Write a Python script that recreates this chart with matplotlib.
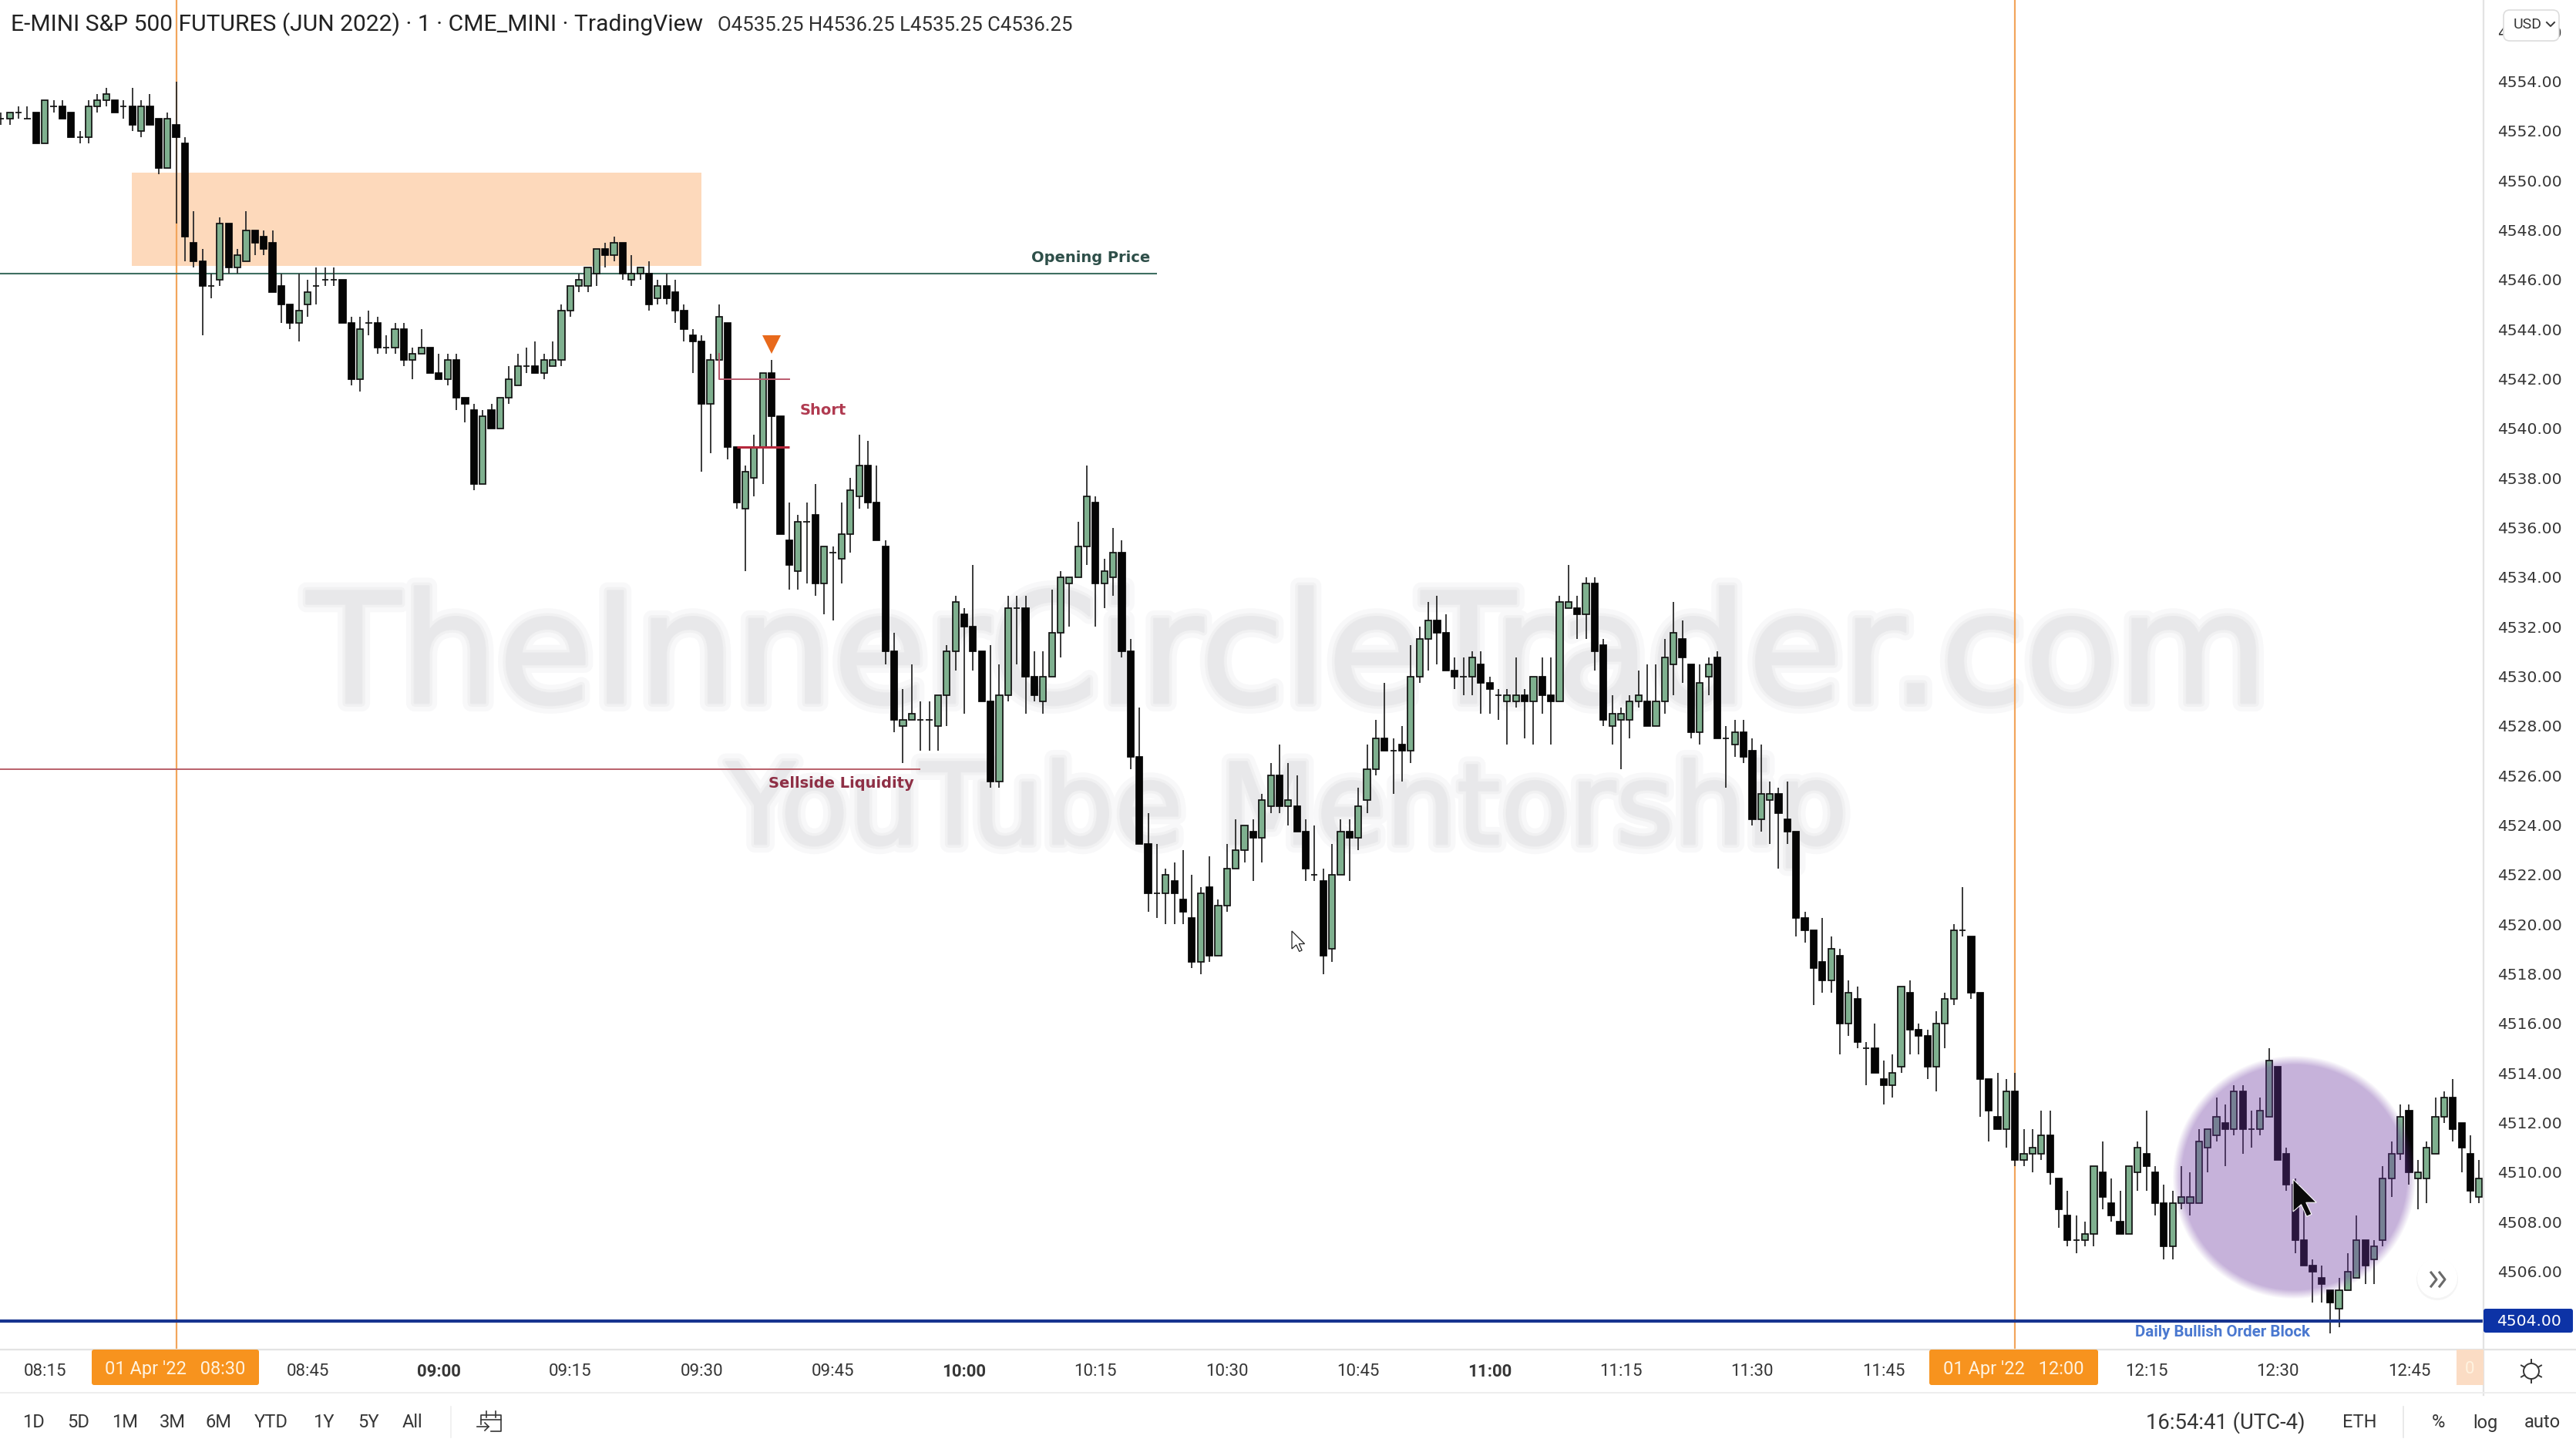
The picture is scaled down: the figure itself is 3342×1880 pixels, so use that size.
import numpy as np
import matplotlib
matplotlib.use("Agg")
import matplotlib.pyplot as plt
import matplotlib.patheffects as pe
from matplotlib.patches import Rectangle, Circle, FancyBboxPatch, Polygon

# prices are points above 4500, one candle per minute, first one is 08:10
base_price = 4500
opens = [52.5,52.5,52.75,52.5,52.75,51.5,53,53,52.75,51.75,
         51.75,53,53.25,53.25,53,53,52,53,52.5,50.5,
         52.25,51.5,47.5,46.75,45.75,46,48.25,46.5,46.75,48,
         47.75,47.5,45.75,45,44.25,45,45.75,46,46,46,
         44.25,42,44.25,44.25,43.25,43.25,44,42.75,43,43.25,
         42.25,42,42.75,41.25,40.75,37.75,40.75,40,41.25,41.75,
         42.5,42.5,42.25,42.5,42.75,44.75,45.75,45.75,46.25,47.25,
         47,47.5,46,46.25,46.25,45.25,45.75,45.5,44.75,43.75,
         43.5,41,42.75,44.25,39.25,36.75,38,39.25,42.25,40.5,
         35.5,34.25,36.25,36.5,33.75,35,34.75,35.75,37.25,38.5,
         37,35.25,31,28,28.25,28.25,28.25,28,29.25,31,
         32.5,32,31,29,25.75,29.25,32.75,32.75,30,29,
         30,31.75,33.75,34,35.25,37,33.75,34,35,31,
         26.75,23.25,21.25,21.25,21.75,21,20.25,18.5,21.5,18.75,
         20.75,22.25,23,23.75,23.5,24.75,26,24.75,24.75,23.75,
         22,21.75,19,22,23.75,23.5,25,26.25,27.5,27,
         27.25,27,30,31.5,32.25,31.75,30.25,30,30,30.5,
         29.75,29.25,29,29,29.25,29,30,29.25,29,32.75,
         32.75,32.5,33.75,31.25,28,28.25,28.25,29,29,28,
         29,30.5,31.5,30.5,27.75,30,30.75,27.5,27.25,27.75,
         27,24.25,25,25.25,24.25,23.75,20.25,19.75,18.5,17.75,
         18.75,16,17,15,15,13.75,13.5,14.25,17.25,15.75,
         15.5,14.25,16,17,19.75,19.5,17.25,13.75,12.25,11.75,
         13.25,10.5,10.75,10.75,11.5,9.75,8.25,7.25,7.25,7.5,
         10,8.75,8,7.5,10,10.75,10,8.75,7,8.75,
         8.75,8.75,11,11.5,12,11.75,13.25,11.75,11.75,12.25,
         14.25,10.75,9.5,7.25,6.25,5.75,5.25,4.5,5.25,5.75,
         7.25,6.5,7.25,9.75,10.75,12.5,9.75,9.75,10.75,12.25,
         13,12,10.75,9]
highs = [52.75,52.75,53,53,52.75,53.25,53.25,53.25,52.75,52,
         53.25,53.5,53.75,53.25,53.25,53.75,53.25,53.5,52.5,52.75,
         54,51.75,48.75,47.25,46.25,48.5,48.25,47.25,48.75,48,
         48,48,46.25,45,46.25,46,46.5,46.5,46.5,46,
         44.5,44.5,44.75,44.5,43.75,44.25,44.25,43.25,44,43.25,
         43,43,43,41.25,41,40.75,41,41.25,42.5,43,
         43.25,43.5,43,43.5,45,45.75,46.25,46.5,47.25,47.5,
         47.75,47.5,47,46.5,46.75,46,46.25,46,45,44,
         43.75,43,45,44.25,39.25,38.5,39.75,42.25,42.75,40.5,
         37,36.5,37,37.75,35.25,35.25,37,38,39.75,39.5,
         38.5,35.5,31.75,29.5,30.5,29,29,29.25,31.25,33.25,
         32.75,34.5,31,31.25,30.5,33.25,33.25,33.25,31,31,
         33.5,34.25,34,36.25,38.5,37.25,34.75,36,35.5,31.5,
         28.75,24.5,23.25,22.25,22.5,23,22,21.5,22.75,21,
         23.25,24.25,24,24.25,25.25,26.5,27.25,26.5,26,24.25,
         24,22.25,23.25,24.25,24.25,25.5,27.25,28.25,29.75,27.5,
         28,31.25,32,33,33.25,32.5,30.75,30.75,31,31,
         30,29.5,29.5,30.75,29.5,30,30.75,30.75,33.25,34.5,
         33.25,34,34,31.5,29.25,28.75,29.25,30.25,30.5,30.5,
         31.5,33,32.25,30.5,30.5,30.75,31,28,28.25,28.25,
         27.5,27.25,25.75,25.5,25.75,23.75,20.5,19.75,20.25,19.5,
         19,17.75,17.5,15.25,16,14.5,14.75,17.5,17.75,16,
         15.75,16.5,17.25,20,21.5,19.5,17.25,13.75,14,13.75,
         14,11.75,11.75,12.5,12.5,9.75,9.25,8.25,8,10.25,
         11.25,9.75,9.25,10.25,11.25,12.5,10.25,9.5,9.25,10.25,
         10,11.75,11.75,13,12.75,13.5,13.5,12.5,13,15,
         14.25,11,9.75,8.5,6.5,6.25,5.25,5.75,6.75,8.25,
         7.25,7.25,10.25,11.25,12.75,12.75,10.5,11.25,13,13.25,
         13.75,12,11.5,10.5]
lows = [52.25,52.25,52.5,52.5,51.5,51.5,52.75,52.5,51.75,51.5,
        51.5,52.75,53,52.75,52.5,52,51.75,52.25,50.25,50.5,
        48.25,46.75,46.5,43.75,45.25,45.75,46.25,46.25,46.75,47,
        47,45.5,44.25,44,43.5,44.5,45,45.75,45.75,44.25,
        41.75,41.5,43.75,43,43,43,42.5,42,43,42.25,
        42,41.75,40.75,40.25,37.5,37.75,40,40,41,41.75,
        42.25,42.25,42,42.5,42.5,44.5,45.5,45.5,45.75,46.5,
        46.75,46,45.75,46,44.75,45,45,44.25,43.5,42.25,
        38.25,39,42,38.75,36.75,34.25,37.25,37.75,39.25,35.75,
        33.5,33.5,33.75,33.25,32.5,32.25,33.75,35,36.75,36.75,
        35.5,30.5,27.75,26.5,28.25,27,27,27,28,30.25,
        28.5,30.25,29,25.5,25.5,29,30.5,28.5,29,28.5,
        30,30.75,32,34,34.5,32,32.75,33.25,30.75,26.25,
        23.25,20.5,20.25,20,20,20,18.25,18,18.5,18.75,
        20.5,22.25,22.5,21.75,22.5,24.5,24.5,24,23.75,21.75,
        21.75,18,18.5,22,21.75,23,24.5,26,27,25.25,
        25.75,26.5,29.75,30.25,30.5,30.25,29.5,29.25,29.25,28.5,
        28.5,28.25,27.25,28.75,27.5,27.25,28.5,27.25,29,32.75,
        31.5,31.5,30.25,28,27.25,26.25,27.5,28.75,28,28,
        28.5,29.25,29.75,27.5,27.25,29.25,27.5,25.5,26.75,26.5,
        24,23.75,23.25,22.25,23.25,19.5,19.25,16.75,17.25,17.25,
        14.75,15.5,15,13.5,14,12.75,13,14,14.75,14.75,
        13.75,13.25,15,16.75,19.5,17,12.25,11.25,11.75,11,
        10.25,10.25,10,10.5,9.5,7.75,7,6.75,7,7,
        8.5,8,7.5,7.5,9.25,9.25,8.25,6.5,6.5,8.5,
        8.25,8.75,10,11.25,10.25,11.5,10.75,11,11.5,12.25,
        10.5,9.25,6.75,6.25,4.75,4.75,3.5,3.75,5.25,5.75,
        5.5,5.5,7,9,10.5,9.5,8.5,8.75,10.75,12,
        11.25,10,8.75,8.75]
closes = [52.5,52.75,52.75,52.5,51.5,53.25,53,52.5,51.75,51.75,
          53,53.25,53.5,52.75,53,52.25,53,52.25,50.5,52.5,
          51.75,47.75,46.75,45.75,45.75,48.25,46.5,47,48,47.5,
          47.25,45.5,45,44.25,44.75,45.5,45.75,46,46,44.25,
          42,44,44.25,43.25,43.25,44,42.75,43,43.25,42.25,
          42,42.75,41.25,41,37.75,40.5,40,41.25,42,42.5,
          42.5,42.25,42.75,42.75,44.75,45.75,46,46.5,47.25,47,
          47.5,46.25,46.25,46.5,45,45.75,45.25,44.75,44,43.5,
          41,42.75,44.5,39.25,37,38.25,39.25,42.25,40.5,35.75,
          34.5,36.25,36.25,33.75,35.25,35,35.75,37.5,38.5,37,
          35.5,31,28.25,28.25,28.5,28.25,28.25,29.25,31,33,
          32,31,29,25.75,29.25,32.75,32.75,30,29.25,30,
          31.75,34,34,35.25,37.25,33.75,34.25,35,31,26.75,
          23.25,21.25,21.25,22,21.25,20.5,18.5,21.25,18.75,20.75,
          22.25,23,24,23.5,25,26,24.75,25,23.75,22.25,
          22,18.75,22,23.75,23.5,24.75,26.25,27.5,27,27,
          27,30,31.5,32.25,31.75,30.25,30,30,30.75,29.75,
          29.5,29.25,29.25,29.25,29,30,29.25,29,33,33,
          32.5,33.75,31,28.25,28.5,28.5,29,29.25,28,29,
          30.75,31.75,30.75,27.75,29.75,30.5,27.5,27.5,27.75,26.75,
          24.25,25.25,25.25,24.5,23.75,20.25,19.75,18.25,17.75,19,
          16,17.25,15.25,15,14,13.5,14,17.5,15.75,15.5,
          14.25,16,17,19.75,19.75,17.25,13.75,12.5,11.75,13.25,
          10.5,10.75,11,11.5,10,8.5,7.25,7.25,7.5,10.25,
          9,8.25,7.5,10.25,11,10.25,8.75,7,8.75,9,
          9,11.25,11.75,12.25,11.75,13.25,11.75,11.75,12.5,14.5,
          10.5,9.5,7.25,6.25,6,5.5,4.75,5.25,6,7.25,
          6.25,7,9.75,10.75,12.25,10,10,11,12.25,13,
          11.75,11,9.25,9.75]

price_ticks = list(range(4504, 4558, 2))
time_ticks = [-15, 15, 30, 45, 60, 75, 90, 105, 120, 135, 150, 165, 180, 195, 225, 240, 255]
time_labels = ["08:15", "08:45", "09:00", "09:15", "09:30", "09:45", "10:00", "10:15", "10:30",
               "10:45", "11:00", "11:15", "11:30", "11:45", "12:15", "12:30", "12:45"]
bold_labels = ["09:00", "10:00", "11:00"]
range_buttons = ["1D", "5D", "1M", "3M", "6M", "YTD", "1Y", "5Y", "All"]
range_button_x = [43, 102, 162, 224, 284, 352, 420, 478, 535]

opening_price = 4546.25
sellside_price = 4526.25
order_block_price = 4504
short_entry = 4542
short_target = 4539.25
short_marker = 4543.4

o = base_price + np.array(opens, dtype=float)
h = base_price + np.array(highs, dtype=float)
l = base_price + np.array(lows, dtype=float)
c = base_price + np.array(closes, dtype=float)
minute = np.arange(len(o)) - 20     # minutes after 08:30

W, H = 3342, 1880
GREEN = "#7fb08f"
ORANGE = "#f7931e"
TEXT = "#363636"
GRID = "#e3e3e3"

fig = plt.figure(figsize=(W / 100, H / 100), dpi=100, facecolor="white")

# chart pane, y scale: about 32.17 px per point, x scale: 11.36 px per minute
ax = fig.add_axes([0, (H - 1751) / H, 3222 / W, 1751 / H])
ax.set_xlim(-20.12, 263.5)
ax.set_ylim(4502.85, 4557.28)
for s in ax.spines.values():
    s.set_visible(False)

ax.yaxis.tick_right()
ax.set_yticks(price_ticks)
ax.set_yticklabels(["%.2f" % p for p in price_ticks], fontsize=14.6, color=TEXT, family="DejaVu Sans")
ax.tick_params(axis="y", length=0, pad=13)
ax.set_xticks(time_ticks)
ax.set_xticklabels(time_labels, fontsize=16, color=TEXT, family="Roboto")
for lab in ax.get_xticklabels():
    if lab.get_text() in bold_labels:
        lab.set_fontweight("bold")
ax.tick_params(axis="x", length=0, pad=13)

# ui layer in full image pixels
ui = fig.add_axes([0, 0, 1, 1], zorder=5)
ui.set_xlim(0, W)
ui.set_ylim(H, 0)
ui.axis("off")

# watermark under the candles, blurred look from a wide pale stroke
wm = [pe.Stroke(linewidth=16, foreground="#f8f8f9"), pe.Stroke(linewidth=7, foreground="#f1f1f2"),
      pe.Stroke(linewidth=2, foreground="#e9e9eb"), pe.Normal()]
ax.text(1670, 912, "TheInnerCircleTrader.com", transform=ui.transData, family="DejaVu Sans", fontsize=143.5,
        color="#e8e8ea", ha="center", va="baseline", zorder=0.5, path_effects=wm)
ax.text(1670, 1095, "YouTube Mentorship", transform=ui.transData, family="DejaVu Sans", fontsize=105,
        color="#e8e8ea", ha="center", va="baseline", zorder=0.5, path_effects=wm)

# supply zone
ax.add_patch(Rectangle((-5.1, 4546.55), 65.1, 3.76, facecolor="#fdd9bb", edgecolor="none", zorder=1))

# session lines
ax.axvline(0, color="#f2a55c", lw=1.6, zorder=1.5)
ax.axvline(210, color="#f2a55c", lw=1.6, zorder=1.5)
ax.hlines(opening_price, -20.12, 112, color="#3f6f61", lw=1.5, zorder=1.6)
ax.hlines(sellside_price, -20.12, 85, color="#b9606a", lw=1.4, zorder=1.6)
ax.axhline(order_block_price, color="#17348f", lw=3, zorder=3.5)

# candles
up = c >= o
body_low = np.minimum(o, c)
body_size = np.abs(c - o)
ax.vlines(minute, l, h, color="#2b2b2b", lw=1.3, zorder=2)
ax.bar(minute[up], body_size[up], bottom=body_low[up], width=0.72, color=GREEN,
       edgecolor="#111111", linewidth=1.25, zorder=3)
ax.bar(minute[~up], body_size[~up], bottom=body_low[~up], width=0.72, color="#050505",
       edgecolor="#050505", linewidth=1.25, zorder=3)

# short setup
ax.plot([62, 62, 70], [4543, short_entry, short_entry], color="#bb5a6e", lw=1.4, zorder=3.2)
ax.hlines(short_target, 64, 70, color="#b5283c", lw=2.2, zorder=3.2)
ax.plot([68], [short_marker], marker="v", ms=17, color="#e8691b", mew=0, zorder=3.2)

# highlight circle, soft edge, over the candles
cx, cy, rad = 2976, 1527, 152
yy, xx = np.mgrid[-175:175, -175:175]
dist = np.hypot(xx, yy)
rgba = np.zeros((350, 350, 4))
rgba[..., :3] = np.array([105, 52, 158]) / 255
rgba[..., 3] = 0.38 * np.clip((rad - dist) / 12 + 0.5, 0, 1)
ui.imshow(rgba, extent=(cx - 175, cx + 175, cy + 175, cy - 175), aspect="auto", zorder=1)
ui.set_xlim(0, W)
ui.set_ylim(H, 0)

# chart labels
ui.text(1338, 335, "Opening Price", fontsize=14, fontweight="bold", color="#2e4f49",
        family="DejaVu Sans", va="center", ha="left")
ui.text(997, 1017, "Sellside Liquidity", fontsize=14, fontweight="bold", color="#8e2f45",
        family="DejaVu Sans", va="center", ha="left")
ui.text(1038, 533, "Short", fontsize=14, fontweight="bold", color="#b03a50",
        family="DejaVu Sans", va="center", ha="left")
ui.text(2770, 1729, "Daily Bullish Order Block", fontsize=14.8, fontweight="bold", color="#4a78d0",
        family="Roboto", va="center", ha="left")

# header
ui.text(14, 32, "E-MINI S&P 500 FUTURES (JUN 2022) · 1 · CME_MINI · TradingView", fontsize=21.6,
        color="#222222", family="Roboto", va="center", ha="left")
ui.text(931, 33, "O4535.25 H4536.25 L4535.25 C4536.25", fontsize=18.5, color="#2f2f2f",
        family="Roboto", va="center", ha="left")

# pane borders
ui.plot([3222, 3222], [0, 1810], color=GRID, lw=1.6, zorder=2)
ui.plot([0, W], [1751, 1751], color=GRID, lw=1.6, zorder=2)
ui.plot([0, W], [1807, 1807], color="#eeeeee", lw=1.4, zorder=2)

# date boxes on the time axis
for x0, x1, txt in [(119, 336, "01 Apr '22   08:30"), (2503, 2722, "01 Apr '22   12:00")]:
    ui.add_patch(FancyBboxPatch((x0, 1751), x1 - x0, 46, boxstyle="round,pad=0,rounding_size=3",
                                facecolor=ORANGE, edgecolor="none", zorder=3))
    ui.text((x0 + x1) / 2, 1777, txt, fontsize=17, color="#fff3e0", family="Roboto",
            ha="center", va="center", zorder=4)
ui.add_patch(Rectangle((3187, 1751), 35, 46, facecolor="#fbdcc4", edgecolor="none", zorder=3))
ui.text(3204, 1777, "0", fontsize=16, color="#fff3e0", family="Roboto", ha="center", va="center", zorder=4)

# last price box
ui.add_patch(FancyBboxPatch((3222, 1698), 116, 31, boxstyle="round,pad=0,rounding_size=3",
                            facecolor="#0d33a6", edgecolor="none", zorder=3))
ui.text(3281, 1714, "4504.00", fontsize=14.6, color="white", family="DejaVu Sans",
        ha="center", va="center", zorder=4)

# USD button hides the 4556 label
ui.add_patch(FancyBboxPatch((3248, 13), 72, 40, boxstyle="round,pad=0,rounding_size=8",
                            facecolor="white", edgecolor="#dddddd", lw=1.2, zorder=3))
ui.text(3279, 32, "USD", fontsize=14, color=TEXT, family="Roboto", ha="center", va="center", zorder=4)
ui.plot([3304, 3309, 3314], [29, 34, 29], color=TEXT, lw=1.4, zorder=4)

# scroll button
ui.add_patch(Circle((3162, 1660), 27, facecolor="#f4f4f4", edgecolor="none", zorder=3))
ui.add_patch(Circle((3162, 1658), 26, facecolor="white", edgecolor="none", zorder=3))
for dx in (-8, 3):
    ui.plot([3162 + dx, 3162 + dx + 7, 3162 + dx], [1651, 1660, 1669], color="#6a6a6a", lw=2.2, zorder=4)

# bottom toolbar
for txt, x in zip(range_buttons, range_button_x):
    ui.text(x, 1845, txt, fontsize=17, color=TEXT, family="Roboto", ha="center", va="center")
ui.plot([585, 585], [1825, 1865], color="#efefef", lw=1.2)
ui.plot([624, 624, 650, 650, 637], [1848, 1836, 1836, 1857, 1857], color=TEXT, lw=1.2)
ui.plot([624, 650], [1842, 1842], color=TEXT, lw=1.2)
ui.plot([631, 631], [1831, 1839], color=TEXT, lw=1.2)
ui.plot([643, 643], [1831, 1839], color=TEXT, lw=1.2)
ui.plot([619, 634], [1851, 1851], color=TEXT, lw=1.2)
ui.plot([629, 634, 629], [1846, 1851, 1856], color=TEXT, lw=1.2)

ui.text(2887, 1846, "16:54:41 (UTC-4)", fontsize=19.8, color=TEXT, family="Roboto", ha="center", va="center")
ui.text(3061, 1846, "ETH", fontsize=17, color=TEXT, family="Roboto", ha="center", va="center")
ui.plot([3118, 3118], [1825, 1865], color="#e6e6e6", lw=1.2)
ui.text(3163, 1846, "%", fontsize=17, color=TEXT, family="Roboto", ha="center", va="center")
ui.text(3224, 1846, "log", fontsize=17, color=TEXT, family="Roboto", ha="center", va="center")
ui.text(3298, 1846, "auto", fontsize=17, color=TEXT, family="Roboto", ha="center", va="center")

# gear icon
ui.add_patch(Circle((3284, 1779), 10, facecolor="none", edgecolor=TEXT, lw=1.4, zorder=4))
for a in np.deg2rad(np.arange(30, 390, 60)):
    ui.plot([3284 + 10 * np.cos(a), 3284 + 15 * np.cos(a)], [1779 + 10 * np.sin(a), 1779 + 15 * np.sin(a)],
            color=TEXT, lw=1.4, zorder=4)

# mouse cursors
arrow = np.array([(0, 0), (0, 1), (0.25, 0.78), (0.42, 1.15), (0.57, 1.08), (0.40, 0.72), (0.72, 0.72)])
ui.add_patch(Polygon(arrow * 42 + [2975, 1530], closed=True, facecolor="#0a0a0a", edgecolor="white", lw=0.8, zorder=6))
ui.add_patch(Polygon(arrow * 23 + [1676, 1208], closed=True, facecolor="white", edgecolor="#222222", lw=0.9, zorder=6))

fig.savefig("out.png", dpi=100, facecolor="white")
